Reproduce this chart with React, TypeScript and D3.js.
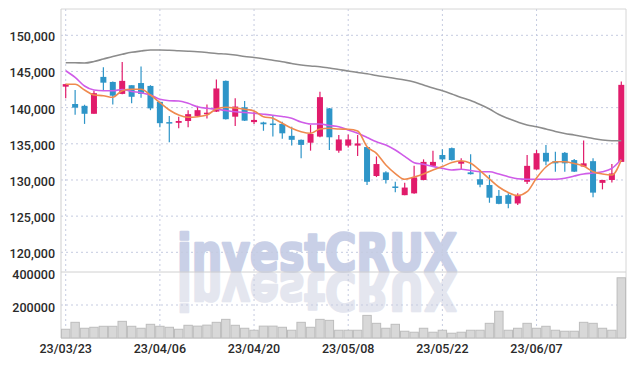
import React from "react";
import * as d3 from "d3";

const dates = [
  "23/03/23","23/03/24","23/03/27","23/03/28","23/03/29","23/03/30","23/03/31","23/04/03","23/04/04","23/04/05",
  "23/04/06","23/04/07","23/04/10","23/04/11","23/04/12","23/04/13","23/04/14","23/04/17","23/04/18","23/04/19",
  "23/04/20","23/04/21","23/04/24","23/04/25","23/04/26","23/04/27","23/04/28","23/05/02","23/05/03","23/05/04",
  "23/05/08","23/05/09","23/05/10","23/05/11","23/05/12","23/05/15","23/05/16","23/05/17","23/05/18","23/05/19",
  "23/05/22","23/05/23","23/05/24","23/05/25","23/05/26","23/05/30","23/05/31","23/06/01","23/06/02","23/06/05",
  "23/06/07","23/06/08","23/06/09","23/06/12","23/06/13","23/06/14","23/06/15","23/06/16","23/06/19","23/06/20",
];

const open = [
  142900,140500,140250,139150,144250,143550,141900,143100,143400,143000,
  140800,138000,137900,138150,138850,139100,139450,143700,138750,140050,
  138000,137950,137800,137750,136100,135550,135150,136000,139900,134050,
  134750,134750,134550,130550,131050,129100,127900,128150,130000,131950,
  133450,134400,132250,131050,130100,129300,127800,127900,126750,129750,
  131450,133750,132600,133750,132750,131850,132600,129600,130000,132500,
];
const high = [
  143300,142450,140400,142350,145600,143600,146300,143100,145700,143100,
  140800,138850,138750,139650,140250,140450,143900,143750,141300,140900,
  139450,138050,138850,138050,137350,135600,137600,142200,139950,136200,
  136300,136200,134600,133250,131200,129750,129600,131950,132850,134050,
  134250,134500,133000,133550,131400,130700,128600,128150,128150,133450,
  134150,134850,133900,133850,132900,135450,133000,130000,132200,143600,
];
const low = [
  141300,139000,137750,139150,142450,140450,141850,140600,141350,139650,
  137300,135200,137150,137300,138700,138500,139400,138350,137450,138150,
  137750,136800,136000,135700,134750,133000,134050,135900,134150,133750,
  134500,133300,129300,130400,129500,128300,127900,128100,129950,131900,
  132450,132700,131450,130750,129000,126850,126650,126100,126550,129450,
  131400,132050,131150,131150,131100,131800,127600,128700,129650,132500,
];
const close = [
  143250,140000,139150,142000,143450,141650,143700,141500,141900,139900,
  137850,137900,138150,139100,139650,139300,142650,138400,140150,138200,
  138300,137700,137700,136450,135550,134850,136350,141450,135900,135600,
  135600,135050,129750,132200,130000,129000,128950,130350,132500,132500,
  132850,132750,132600,130800,129350,127550,126700,126700,127900,131950,
  133700,132550,132300,132300,131150,132300,128250,130000,130900,143150,
];
const volume = [
  53000,95000,59000,65000,71000,71000,101000,71000,59000,83000,
  71000,65000,53000,77000,72000,78000,95000,113000,77000,59000,
  47000,72000,72000,65000,47000,95000,65000,113000,107000,47000,
  47000,47000,137000,89000,59000,83000,41000,35000,59000,35000,
  47000,29000,35000,47000,47000,89000,162000,47000,59000,89000,
  59000,71000,47000,41000,41000,95000,89000,59000,47000,365000,
];
const ma5 = [
  143225,143225,142437,141746,141649,141428,142340,142534,142534,141746,
  140681,139672,138981,138663,138746,138981,139810,140045,139949,139769,
  139534,138746,138524,137833,137142,136672,136451,137045,137142,137045,
  137004,136769,134598,133685,132068,130892,130091,130409,130823,131377,
  131860,132413,132662,132303,131307,130132,129026,128266,127851,128376,
  130270,131791,132524,132524,132275,131930,131141,130823,130685,132759,
];
const ma20 = [
  145106,144193,142990,142437,142340,142340,142506,142230,142064,141746,
  141151,140958,140916,140598,140128,139907,139769,139603,139437,139326,
  139216,139091,138953,138773,138524,138013,137736,137736,137529,137363,
  136907,136451,135870,135289,134833,134142,133271,132386,132164,131860,
  131611,131377,131473,131307,131141,131141,130823,130450,130160,130091,
  130091,130091,130091,130229,130547,130823,130962,131141,131611,132828,
];
const ma60 = [
  146212,146198,146170,146378,146723,147069,147373,147650,147830,147968,
  147968,147926,147857,147802,147733,147622,147484,147415,147276,147069,
  146931,146751,146544,146336,146101,145894,145756,145659,145479,145272,
  145064,144857,144677,144442,144234,144027,143820,143543,143128,142714,
  142340,141884,141400,140985,140432,139810,139050,138497,138013,137598,
  137363,137045,136699,136423,136216,135981,135731,135524,135427,135427,
];
const priceTicks = [120000, 125000, 130000, 135000, 140000, 145000, 150000];
const volumeTicks = [200000, 400000];
const labelIdx = [0, 10, 20, 30, 40, 50];

const W = 635, H = 366;
const L = 61, R = 626, TOP = 9, MID = 272, BOT = 338;
const UP = "#e11b6b", DOWN = "#2e95c8";
const GRID = "#c5cbe0";
const FONT = "Roboto, 'Liberation Sans', sans-serif";

export default function App() {
  const x = d3.scaleBand<string>().domain(dates).range([L, R]).padding(0);
  const bw = x.bandwidth();
  const cx = (i: number) => (x(dates[i]) as number) + bw / 2;
  const y = d3.scaleLinear().domain([117277, 153636]).range([MID, TOP]);
  const yv = d3.scaleLinear().domain([0, 400000]).range([BOT, MID]);
  const fmt = d3.format(",");

  const line = (arr: number[]) =>
    d3.line<number>().x((_, i) => cx(i)).y((v) => y(v)).curve(d3.curveMonotoneX)(arr) || "";

  return (
    <svg width={W} height={H} style={{ position: "absolute", left: 0, top: 0, background: "#fff" }}>
      {/* watermark */}
      <g fontFamily="'DejaVu Sans', sans-serif" fontWeight="bold" fontSize={52} strokeWidth={2.6} strokeLinejoin="round">
        <text x={177} y={MID - 1} fill="#e4e6ef" stroke="#e4e6ef" textLength={280} lengthAdjust="spacingAndGlyphs"
          transform={`translate(0 ${2 * MID}) scale(1 -1)`}>investCRUX</text>
        <text x={177} y={MID - 1} fill="#c9d0e7" stroke="#c9d0e7" textLength={280} lengthAdjust="spacingAndGlyphs">investCRUX</text>
      </g>

      {/* grid */}
      {priceTicks.map((t) => (
        <line key={"pg" + t} x1={L} x2={R} y1={y(t)} y2={y(t)} stroke={GRID} strokeDasharray="2,3" />
      ))}
      <line x1={L} x2={R} y1={yv(200000)} y2={yv(200000)} stroke={GRID} strokeDasharray="2,3" />
      {labelIdx.map((i) => (
        <line key={"vg" + i} x1={cx(i)} x2={cx(i)} y1={TOP} y2={BOT} stroke={GRID} strokeDasharray="2,3" />
      ))}

      {/* frame */}
      <line x1={L} x2={R} y1={TOP} y2={TOP} stroke="#d6d6d6" />
      <line x1={R} x2={R} y1={TOP} y2={BOT} stroke="#d6d6d6" />
      <line x1={L} x2={L} y1={TOP} y2={BOT} stroke="#cfcfcf" />
      <line x1={L} x2={R} y1={MID} y2={MID} stroke="#d0d0d0" />
      <line x1={L} x2={R} y1={BOT} y2={BOT} stroke="#cfcfcf" />

      {/* volume */}
      {volume.map((v, i) => (
        <rect key={"v" + i} x={(x(dates[i]) as number) + 0.5} y={yv(v)} width={bw - 1} height={BOT - yv(v)}
          fill="#d8d8d8" stroke="#bdbdbd" strokeWidth={1} />
      ))}

      {/* candles */}
      {dates.map((d, i) => {
        const up = close[i] >= open[i];
        const c = up ? UP : DOWN;
        const top = y(Math.max(open[i], close[i]));
        const bot = y(Math.min(open[i], close[i]));
        return (
          <g key={"c" + i}>
            <line x1={cx(i)} x2={cx(i)} y1={y(high[i])} y2={y(low[i])} stroke={c} strokeWidth={1.2} />
            <rect x={cx(i) - 3} y={top} width={6} height={Math.max(bot - top, 1.5)} fill={c} />
          </g>
        );
      })}

      {/* moving averages */}
      <path d={line(ma60)} fill="none" stroke="#8c8c8c" strokeWidth={1.6} />
      <path d={line(ma20)} fill="none" stroke="#cf5ce8" strokeWidth={1.6} />
      <path d={line(ma5)} fill="none" stroke="#ef8a4e" strokeWidth={1.6} />

      {/* axis labels */}
      <g fontFamily={FONT} fontSize={12.5} fontWeight={500} fill="#2a2a2a">
        {priceTicks.map((t) => (
          <text key={"pl" + t} x={55} y={y(t) + 6} textAnchor="end">{fmt(t)}</text>
        ))}
        {volumeTicks.map((t) => (
          <text key={"vl" + t} x={55} y={yv(t) + 7} textAnchor="end">{String(t)}</text>
        ))}
        {labelIdx.map((i) => (
          <text key={"xl" + i} x={cx(i)} y={353} textAnchor="middle">{dates[i]}</text>
        ))}
      </g>
    </svg>
  );
}
